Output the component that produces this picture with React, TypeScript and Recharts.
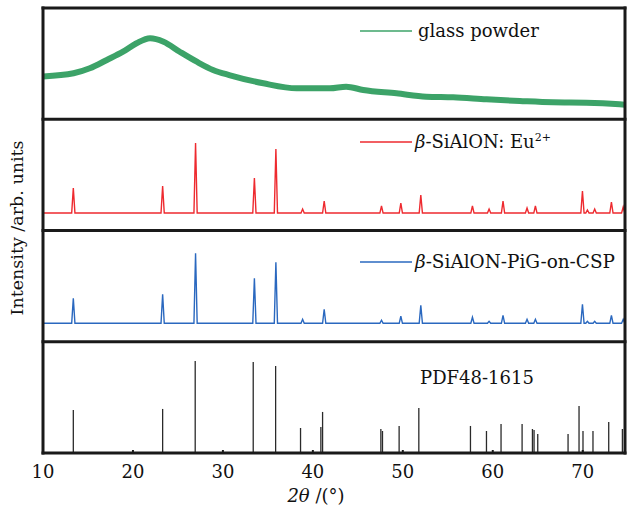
import React from 'react';
import { ComposedChart, Line, XAxis, YAxis, ReferenceLine } from 'recharts';

const X_MIN = 10;
const X_MAX = 74.7;
const xTicks = [10, 20, 30, 40, 50, 60, 70];

// glass powder (arbitrary units, 1000 = panel height)
const glassX = [10, 13.4, 15.2, 17.1, 18.9, 20.4, 21.9, 23.4, 25.2, 27.1, 28.9, 30.8, 34.5, 38.2, 41.9, 43.7, 45.6, 49.3, 52.6, 55.6, 59.3, 63, 66.7, 70.4, 74.1, 74.7];
const glassY = [385, 413, 458, 533, 607, 683, 728, 697, 607, 517, 443, 395, 323, 278, 278, 293, 263, 233, 203, 197, 179, 164, 152, 149, 134, 130];

// measured peak positions (shared by the two measured patterns)
const peakPos = [13.37, 23.3, 26.96, 33.5, 35.89, 38.86, 41.26, 47.63, 49.78, 52.0, 57.74, 59.59, 61.14, 63.81, 64.74, 69.97, 70.52, 71.33, 73.19, 74.5];
const redBase = 157;
const redH = [225, 243, 629, 315, 575, 36, 108, 63, 90, 162, 63, 36, 108, 45, 63, 198, 27, 36, 99, 54];
const blueBase = 166;
const blueH = [225, 261, 629, 405, 548, 36, 126, 27, 63, 162, 54, 18, 72, 36, 36, 171, 18, 18, 72, 36];

// PDF48-1615 reference lines
const pdfPos = [13.37, 23.3, 26.92, 33.37, 35.86, 38.63, 40.89, 41.08, 47.56, 47.74, 49.59, 51.78, 57.52, 59.3, 60.92, 63.26, 64.41, 64.59, 65.0, 68.37, 69.59, 70.03, 71.14, 72.89, 74.41];
const pdfH = [387, 396, 827, 818, 782, 225, 234, 369, 216, 198, 243, 405, 243, 198, 261, 261, 216, 207, 171, 171, 423, 198, 198, 279, 216];

const UNIT = 1000;
const glassData = glassX.map((x, i) => ({ x, y: 3 + glassY[i] / UNIT }));

function pattern(pos: number[], h: number[], base: number, offset: number) {
  const pts: { x: number; y: number }[] = [{ x: X_MIN, y: offset + base / UNIT }];
  pos.forEach((p, i) => {
    pts.push({ x: p - 0.18, y: offset + base / UNIT });
    pts.push({ x: p, y: offset + (base + h[i]) / UNIT });
    pts.push({ x: p + 0.18, y: offset + base / UNIT });
  });
  pts.push({ x: X_MAX, y: offset + base / UNIT });
  return pts;
}
const redData = pattern(peakPos, redH, redBase, 2);
const blueData = pattern(peakPos, blueH, blueBase, 1);

const FRAME = '#1a1a1a';
const FONT = 'DejaVu Serif';

export default function App() {
  return (
    <div style={{ position: 'absolute', left: 0, top: 0, width: 627, height: 505, background: '#fff' }}>
      <ComposedChart width={627} height={505} margin={{ top: 8, right: 2, left: 43, bottom: 0 }}>
        <XAxis
          type="number"
          dataKey="x"
          domain={[X_MIN, X_MAX]}
          ticks={xTicks}
          allowDataOverflow
          height={52}
          axisLine={false}
          tickLine={{ stroke: FRAME, strokeWidth: 2 }}
          tickSize={-3}
          tickMargin={15}
          tick={{ fill: '#111', fontFamily: FONT, fontSize: 18 }}
        />
        <YAxis type="number" domain={[0, 4]} hide allowDataOverflow />
        <Line data={glassData} dataKey="y" type="monotone" stroke="#3ca368" strokeWidth={6} dot={false} isAnimationActive={false} />
        <Line data={redData} dataKey="y" type="linear" stroke="#ee2a2f" strokeWidth={1.4} dot={false} isAnimationActive={false} />
        <Line data={blueData} dataKey="y" type="linear" stroke="#2a68bf" strokeWidth={1.4} dot={false} isAnimationActive={false} />
        {pdfPos.map((p, i) => (
          <ReferenceLine key={'pdf' + i} segment={[{ x: p, y: 0 }, { x: p, y: pdfH[i] / UNIT }]} stroke="#2a2a2a" strokeWidth={1.3} />
        ))}
        {[0, 1, 2, 3, 4].map((v) => (
          <ReferenceLine key={'h' + v} y={v} stroke={FRAME} strokeWidth={3} strokeLinecap="square" />
        ))}
        <ReferenceLine x={X_MIN} stroke={FRAME} strokeWidth={3} strokeLinecap="square" />
        <ReferenceLine x={X_MAX} stroke={FRAME} strokeWidth={3} strokeLinecap="square" />
      </ComposedChart>
      <svg width={627} height={505} style={{ position: 'absolute', left: 0, top: 0, pointerEvents: 'none' }} fontFamily={FONT}>
        <line x1={360} x2={412} y1={31} y2={31} stroke="#3ca368" strokeWidth={1.6} />
        <text x={418} y={37} fontSize={18} fill="#111">glass powder</text>
        <line x1={360} x2={412} y1={142} y2={142} stroke="#ee2a2f" strokeWidth={1.6} />
        <text x={415} y={148} fontSize={18} fill="#111">
          <tspan fontStyle="italic">β</tspan>-SiAlON: Eu<tspan fontSize={11} dy={-7}>2+</tspan>
        </text>
        <line x1={360} x2={412} y1={262} y2={262} stroke="#2a68bf" strokeWidth={1.6} />
        <text x={415} y={268} fontSize={18} fill="#111" textLength={200} lengthAdjust="spacingAndGlyphs">
          <tspan fontStyle="italic">β</tspan>-SiAlON-PiG-on-CSP
        </text>
        <text x={477} y={384} fontSize={18} fill="#111" textAnchor="middle">PDF48-1615</text>
        <text x={316} y={502} fontSize={18} fill="#111" textAnchor="middle">
          <tspan fontStyle="italic">2θ</tspan> /(°)
        </text>
        <text transform="translate(23,228) rotate(-90)" fontSize={17.5} fill="#111" textAnchor="middle">Intensity /arb. units</text>
      </svg>
    </div>
  );
}
